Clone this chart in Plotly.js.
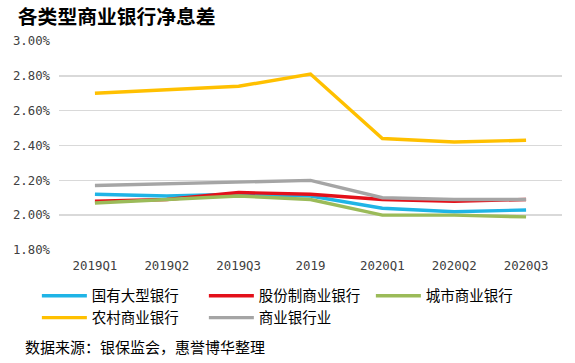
<!DOCTYPE html>
<html><head><meta charset="utf-8">
<script src="https://cdn.plot.ly/plotly-3.0.1.min.js"></script>
<style>body{margin:0;background:#fff}#c{width:575px;height:363px}</style>
</head><body><div id="c"></div>
<script>
var categories = ["2019Q1","2019Q2","2019Q3","2019","2020Q1","2020Q2","2020Q3"];
var seriesNames = ["国有大型银行","股份制商业银行","城市商业银行","农村商业银行","商业银行业"];
var stateOwned = [2.12, 2.11, 2.12, 2.11, 2.04, 2.02, 2.03];
var jointStock = [2.08, 2.09, 2.13, 2.12, 2.09, 2.08, 2.09];
var cityBanks  = [2.07, 2.09, 2.11, 2.09, 2.00, 2.00, 1.99];
var ruralBanks = [2.70, 2.72, 2.74, 2.81, 2.44, 2.42, 2.43];
var industry   = [2.17, 2.18, 2.19, 2.20, 2.10, 2.09, 2.09];
var yTicks = [1.8, 2.0, 2.2, 2.4, 2.6, 2.8, 3.0];

var colors = ["#1FB4E6","#E3101A","#9BBB59","#FFC000","#A5A5A5"];
var allValues = [stateOwned, jointStock, cityBanks, ruralBanks, industry];
var traces = allValues.map(function(v,i){
  return {x:categories, y:v, type:'scatter', mode:'lines', name:seriesNames[i],
    line:{color:colors[i], width:3.4}, hoverinfo:'skip'};
});
var font = "'Noto Sans CJK SC', 'Liberation Sans', sans-serif";
var mono = "'DejaVu Sans Mono', 'Liberation Mono', monospace";
var layout = {
  width:575, height:363,
  margin:{l:59, r:13, t:41, b:113, autoexpand:false},
  paper_bgcolor:'#fff', plot_bgcolor:'#fff',
  showlegend:true,
  title:{text:'<b>各类型商业银行净息差</b>', xref:'container', yref:'container',
    x:0.031, xanchor:'left', y:0.953, yanchor:'middle',
    font:{family:font, size:19.8, color:'#000'}},
  xaxis:{type:'category', showgrid:false, zeroline:false, showline:false, ticks:'',
    tickfont:{family:mono, size:12.4, color:'#404040'}, ticklabelstandoff:7,
    range:[-0.5,6.5], fixedrange:true},
  yaxis:{range:[1.8,3.0], tickvals:yTicks, ticktext:yTicks.map(function(t){return t.toFixed(2)+'%';}),
    showgrid:true, gridcolor:'#D9D9D9', gridwidth:1.6, zeroline:false, showline:false, ticks:'',
    tickfont:{family:mono, size:12.3, color:'#404040'}, ticklabelstandoff:8,
    fixedrange:true},
  legend:{orientation:'h', x:-0.044, xanchor:'left', y:-0.143, yanchor:'top',
    entrywidth:107, entrywidthmode:'pixels', traceorder:'normal',
    font:{family:font, size:14.5, color:'#000'}, itemwidth:45},
  annotations:[{text:'数据来源：银保监会，惠誉博华整理', xref:'paper', yref:'paper',
    x:-0.0716, xanchor:'left', y:-0.464, yanchor:'middle', showarrow:false,
    font:{family:font, size:15, color:'#000'}}]
};
Plotly.newPlot('c', traces, layout, {displayModeBar:false, staticPlot:true});
</script></body></html>
